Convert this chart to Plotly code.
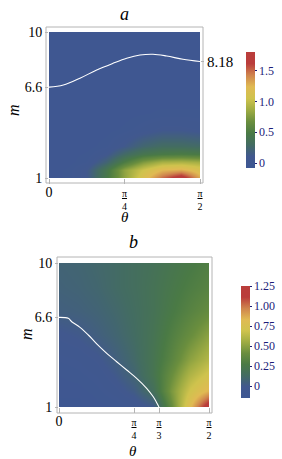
import plotly.graph_objects as go

W, H = 282, 459

# ---------------- data: panel a ----------------
theta_a = [0.0, 0.196, 0.393, 0.589, 0.785, 0.982, 1.178, 1.374, 1.571]
m_a = [1, 1.5, 2, 2.5, 3, 4, 5, 6, 8, 10]
z_a = [
    [0.00, 0.02, 0.12, 0.45, 0.80, 1.15, 1.50, 1.78, 1.30],
    [0.00, 0.02, 0.12, 0.42, 0.80, 1.05, 1.25, 1.30, 1.15],
    [0.00, 0.00, 0.04, 0.22, 0.50, 0.75, 0.90, 0.92, 0.88],
    [0.00, 0.00, 0.02, 0.10, 0.28, 0.42, 0.48, 0.50, 0.48],
    [0.00, 0.00, 0.00, 0.03, 0.12, 0.24, 0.30, 0.30, 0.28],
    [0.00, 0.00, 0.00, 0.00, 0.02, 0.06, 0.10, 0.10, 0.08],
    [0.00, 0.00, 0.00, 0.00, 0.00, 0.01, 0.02, 0.02, 0.02],
    [0.00, 0.00, 0.00, 0.00, 0.00, 0.00, 0.00, 0.00, 0.00],
    [0.00, 0.00, 0.00, 0.00, 0.00, 0.00, 0.00, 0.00, 0.00],
    [0.00, 0.00, 0.00, 0.00, 0.00, 0.00, 0.00, 0.00, 0.00],
]
curve_a_theta = [0.0, 0.149, 0.322, 0.496, 0.666, 0.808, 0.947, 1.082, 1.224, 1.394, 1.571]
curve_a_m = [6.6, 6.73, 7.15, 7.66, 8.07, 8.38, 8.58, 8.63, 8.52, 8.32, 8.18]

# ---------------- data: panel b ----------------
theta_b = [0.0, 0.196, 0.393, 0.589, 0.785, 0.982, 1.178, 1.374, 1.571]
m_b = [1, 1.5, 2, 3, 4, 5.5, 7, 8.5, 10]
z_b = [
    [-0.10, -0.10, -0.09, -0.08, -0.05, 0.00, 0.38, 0.82, 1.25],
    [-0.10, -0.10, -0.08, -0.06, -0.02, 0.08, 0.42, 0.76, 1.05],
    [-0.09, -0.09, -0.07, -0.04, 0.02, 0.16, 0.45, 0.70, 0.86],
    [-0.08, -0.07, -0.05, 0.00, 0.08, 0.21, 0.40, 0.60, 0.72],
    [-0.06, -0.05, -0.02, 0.04, 0.11, 0.21, 0.34, 0.50, 0.61],
    [-0.02, 0.00, 0.04, 0.08, 0.13, 0.20, 0.30, 0.40, 0.50],
    [0.04, 0.05, 0.07, 0.10, 0.14, 0.19, 0.26, 0.33, 0.39],
    [0.06, 0.07, 0.09, 0.12, 0.15, 0.19, 0.24, 0.29, 0.33],
    [0.07, 0.08, 0.10, 0.12, 0.15, 0.18, 0.22, 0.26, 0.30],
]
curve_b_theta = [0.0, 0.097, 0.133, 0.22, 0.307, 0.395, 0.5, 0.604, 0.709, 0.813, 0.918, 0.987, 1.023, 1.047]
curve_b_m = [6.6, 6.54, 6.33, 5.98, 5.5, 4.94, 4.35, 3.83, 3.31, 2.79, 2.17, 1.64, 1.27, 1.0]

# tick labels
xtick_vals_a = [0, 0.7854, 1.5708]
xtick_text_a = ['<span style="font-size:14px">0</span>', '<u>π</u><br>4', '<u>π</u><br>2']
xtick_vals_b = [0, 0.7854, 1.0472, 1.5708]
xtick_text_b = ['<span style="font-size:14px">0</span>', '<u>π</u><br>4', '<u>π</u><br>3', '<u>π</u><br>2']
ytick_vals = [1, 6.6, 10]
ytick_text = ["1", "6.6", "10"]
right_tick_a = [8.18]
cbar_vals_a = [0, 0.5, 1.0, 1.5]
cbar_text_a = ["0", "0.5", "1.0", "1.5"]
cbar_vals_b = [0, 0.25, 0.5, 0.75, 1.0, 1.25]
cbar_text_b = ["0", "0.25", "0.50", "0.75", "1.00", "1.25"]

# DarkRainbow-like colour scheme
cscale = [
    [0.0, "rgb(61,87,147)"], [0.1, "rgb(65,88,142)"], [0.2, "rgb(67,108,98)"],
    [0.3, "rgb(74,122,69)"], [0.4, "rgb(106,142,62)"], [0.5, "rgb(159,172,67)"],
    [0.6, "rgb(207,195,77)"], [0.7, "rgb(224,186,83)"], [0.8, "rgb(207,132,77)"],
    [0.9, "rgb(186,61,59)"], [1.0, "rgb(186,61,59)"],
]

SERIF = "Liberation Serif"
NAVY = "#1c1c78"
GRAY = "#b4b4b4"

def px_x(p):
    return p / W

def px_y(p):
    return 1 - p / H

fig = go.Figure()

fig.add_trace(go.Heatmap(
    x=theta_a, y=m_a, z=z_a, zsmooth="best", colorscale=cscale, zmin=-0.08, zmax=1.8,
    xaxis="x", yaxis="y",
    colorbar=dict(x=px_x(246), xanchor="left", xpad=0, ypad=0, y=px_y(110), yanchor="middle",
                  len=116 / H, lenmode="fraction", thickness=9, thicknessmode="pixels",
                  outlinewidth=0, tickvals=cbar_vals_a, ticktext=cbar_text_a,
                  ticks="outside", ticklen=2, tickcolor=NAVY,
                  tickfont=dict(family=SERIF, size=12, color=NAVY)),
))
fig.add_trace(go.Scatter(x=curve_a_theta, y=curve_a_m, mode="lines", line=dict(color="white", width=1.1, shape="spline"),
                         xaxis="x", yaxis="y", showlegend=False, hoverinfo="skip"))

fig.add_trace(go.Heatmap(
    x=theta_b, y=m_b, z=z_b, zsmooth="best", colorscale=cscale, zmin=-0.15, zmax=1.25,
    xaxis="x2", yaxis="y2",
    colorbar=dict(x=px_x(241), xanchor="left", xpad=0, ypad=0, y=px_y(342), yanchor="middle",
                  len=112 / H, lenmode="fraction", thickness=9, thicknessmode="pixels",
                  outlinewidth=0, tickvals=cbar_vals_b, ticktext=cbar_text_b,
                  ticks="outside", ticklen=2, tickcolor=NAVY,
                  tickfont=dict(family=SERIF, size=12, color=NAVY)),
))
fig.add_trace(go.Scatter(x=curve_b_theta, y=curve_b_m, mode="lines", line=dict(color="white", width=1.1, shape="spline"),
                         xaxis="x2", yaxis="y2", showlegend=False, hoverinfo="skip"))

common_x = dict(showgrid=False, zeroline=False, showline=False, ticks="outside", ticklen=5,
                tickcolor=GRAY, ticklabelstandoff=1, tickfont=dict(family=SERIF, size=10, color="black"))
common_y = dict(showgrid=False, zeroline=False, showline=False, ticks="outside", ticklen=3,
                tickcolor=GRAY, tickfont=dict(family=SERIF, size=14, color="black"), range=[1, 10])

fig.update_layout(
    width=W, height=H, margin=dict(l=0, r=0, t=0, b=0, autoexpand=False),
    paper_bgcolor="white", plot_bgcolor="white", showlegend=False,
    xaxis=dict(domain=[px_x(49), px_x(200)], range=[0, 1.5708], anchor="y",
               tickvals=xtick_vals_a, ticktext=xtick_text_a, **common_x),
    yaxis=dict(domain=[px_y(178), px_y(32)], anchor="x",
               tickvals=ytick_vals, ticktext=ytick_text, **common_y),
    yaxis3=dict(overlaying="y", side="right", anchor="x", showgrid=False, zeroline=False, showline=False,
                range=[1, 10], tickvals=right_tick_a, ticktext=["8.18"], ticks="outside", ticklen=3,
                tickcolor=GRAY, tickfont=dict(family=SERIF, size=15, color="black")),
    xaxis2=dict(domain=[px_x(59), px_x(209)], range=[0, 1.5708], anchor="y2",
                tickvals=xtick_vals_b, ticktext=xtick_text_b, **common_x),
    yaxis2=dict(domain=[px_y(407), px_y(263)], anchor="x2",
                tickvals=ytick_vals, ticktext=ytick_text, **common_y),
)
# invisible marker so the right-hand axis (8.18) is drawn
fig.add_trace(go.Scatter(x=[0], y=[8.18], mode="markers", marker=dict(opacity=0), xaxis="x", yaxis="y3",
                         showlegend=False, hoverinfo="skip"))

# frames
for (x0, x1, y0, y1) in [(46, 203, 27, 183), (57, 212, 257, 413)]:
    fig.add_shape(type="rect", xref="paper", yref="paper", x0=px_x(x0), x1=px_x(x1), y0=px_y(y1), y1=px_y(y0),
                  line=dict(color=GRAY, width=1), fillcolor="rgba(0,0,0,0)", layer="above")

ann = [
    ("<i>a</i>", 125, 14, 18, 0), ("<i>b</i>", 133, 242, 18, 0),
    ("<i>θ</i>", 125, 217, 15, 0), ("<i>θ</i>", 133, 451, 15, 0),
    ("<i>m</i>", 13, 110, 16, -90), ("<i>m</i>", 26, 334, 16, -90),
]
for t, x, y, s, ang in ann:
    fig.add_annotation(text=t, xref="paper", yref="paper", x=px_x(x), y=px_y(y), showarrow=False,
                       xanchor="center", yanchor="middle", textangle=ang, borderpad=0,
                       font=dict(family=SERIF, size=s, color="black"))

fig.write_html("out.html", config={"displayModeBar": False},
               post_script="document.body.style.margin='0';document.body.style.overflow='hidden';")
